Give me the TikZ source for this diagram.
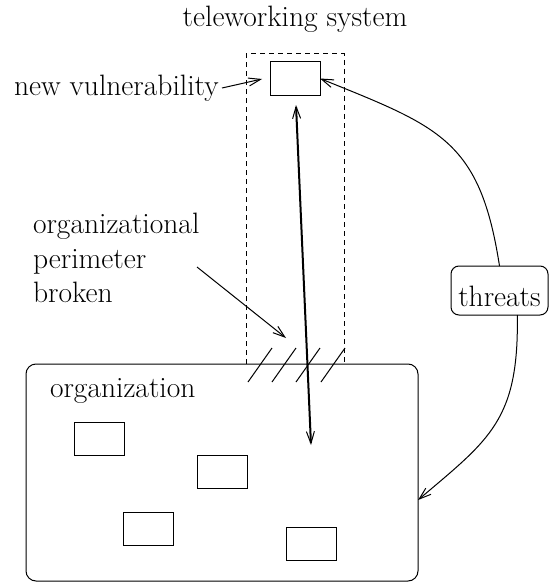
\documentclass[tikz,border=0pt]{standalone}
\usetikzlibrary{arrows.meta}
\begin{document}
\begin{tikzpicture}[x=1pt,y=-1pt,
  every node/.style={inner sep=0pt,outer sep=0pt,font=\rmfamily\fontsize{29.5}{34}\selectfont},
  thin line/.style={line width=1pt},
  tip/.style={-{Straight Barb[length=12pt,width=8pt,line width=1pt]}},
  lbl/.style={anchor=base west},
  smallbox/.style={draw,line width=1pt,minimum width=50pt,minimum height=33pt},
  dashside/.style={line width=1pt,dash pattern=on 5pt off 4pt},
  hatch/.style={line width=1pt}]
\useasboundingbox (0,0) rectangle (550,586);

% titles and labels
\node[anchor=base] (title) at (295,27) {teleworking system};
\node[lbl] (newvul) at (14,95) {new vulnerability};
\node[lbl] (perim1) at (33,233) {organizational};
\node[lbl] (perim2) at (33,268) {perimeter};
\node[lbl] (perim3) at (33,302) {broken};

% teleworking system (dashed) and its box
\draw[dashside] (246,364) -- (246,54) -- (344,54) -- (344,364);
\node[smallbox] (vul) at (295,78.5) {};

% organization
\node[draw,line width=1pt,rounded corners=10pt,minimum width=392pt,minimum height=217pt] (org) at (222,472.5) {};
\node[lbl] (orglbl) at (50,397) {organization};
\node[smallbox] (b1) at (99,438.5) {};
\node[smallbox] (b2) at (222,471.5) {};
\node[smallbox] (b3) at (148,528.5) {};
\node[smallbox] (b4) at (311.5,543.5) {};

% broken perimeter hatches
\foreach \hx in {248,272,296,321}
  \draw[hatch] (\hx,382) -- (\hx+24,348);

% threats
\node[draw,line width=1pt,rounded corners=8pt,minimum width=97pt,minimum height=49pt,
      text height=32pt,text depth=0pt] (thr) at (499.5,290.5) {threats};

% connectors
\coordinate (nva) at (222,88);
\coordinate (nvb) at (262,79);
\draw[thin line,tip] (nva) -- (nvb);

\coordinate (pa) at (197,267);
\coordinate (pb) at (286,338);
\draw[thin line,tip] (pa) -- (pb);

\coordinate (dt) at (296,105);
\coordinate (db) at (311,445);
\draw[line width=2pt,{Straight Barb[length=12pt,width=8pt,line width=1pt]}-{Straight Barb[length=12pt,width=8pt,line width=1pt]}] (dt) -- (db);

\draw[thin line,tip] (thr.north) .. controls (480,140) and (440,127) .. (vul.east);
\draw[thin line,tip] (thr.-54.5) .. controls (519,420) and (490,439) .. (org.-8.56);
\end{tikzpicture}
\end{document}
